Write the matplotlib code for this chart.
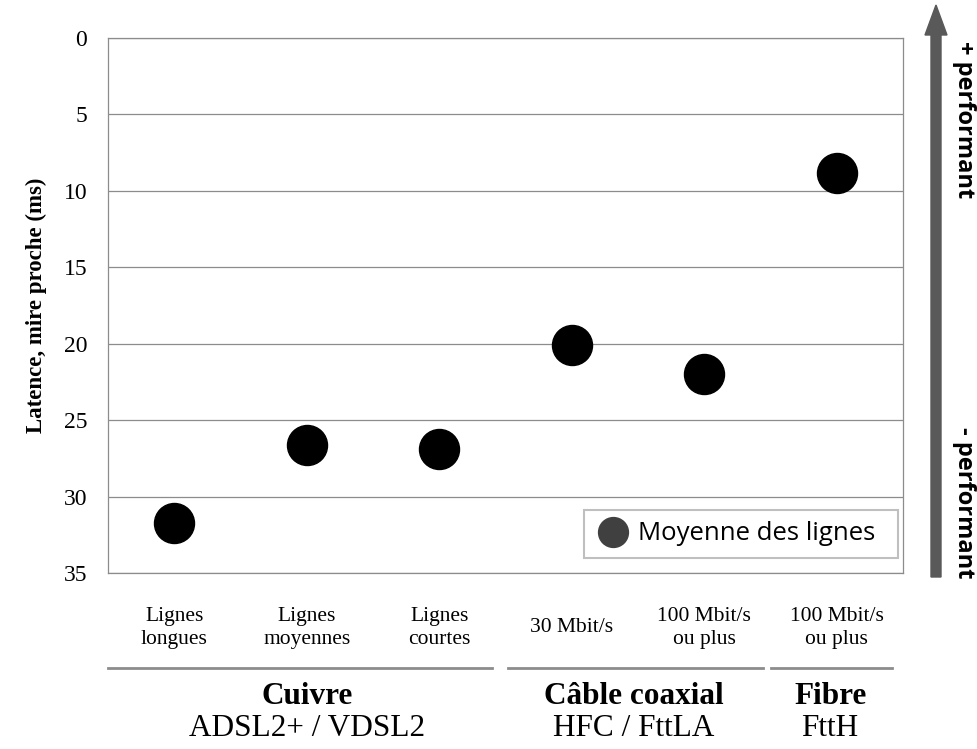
import matplotlib.pyplot as plt
import matplotlib.transforms as mtransforms
from matplotlib.lines import Line2D
from matplotlib.patches import FancyArrow, Rectangle
import numpy as np

# data
categories = ['Lignes\nlongues', 'Lignes\nmoyennes', 'Lignes\ncourtes',
              '30 Mbit/s', '100 Mbit/s\nou plus', '100 Mbit/s\nou plus']
latency = [31.7, 26.6, 26.9, 20.1, 22.0, 8.8]
groups = ['Cuivre', 'Câble coaxial', 'Fibre']
group_sub = ['ADSL2+ / VDSL2', 'HFC / FttLA', 'FttH']
group_span = [(0.0, 2.9), (3.02, 4.94), (5.0, 5.92)]
group_center = [1.5, 3.97, 5.45]
yticks = [0, 5, 10, 15, 20, 25, 30, 35]

serif = 'Liberation Serif'
sans = 'Open Sans'

fig = plt.figure(figsize=(9.77, 7.49), dpi=100)
ax = fig.add_axes([108 / 977, 1 - 573 / 749, 795 / 977, 535 / 749])

x = np.arange(len(categories)) + 0.5
ax.scatter(x, latency, s=830, color='black', zorder=3)

ax.set_xlim(0, 6)
ax.set_ylim(35, 0)
ax.set_yticks(yticks)
ax.set_yticklabels([str(t) for t in yticks], fontfamily=serif, fontsize=17)
ax.set_xticks([])
ax.tick_params(axis='y', length=0, pad=15)
ax.grid(axis='y', color='#8c8c8c', lw=0.9)
ax.set_axisbelow(True)
for sp in ax.spines.values():
    sp.set_color('#8c8c8c')
    sp.set_linewidth(0.9)
ax.set_ylabel('Latence, mire proche (ms)', fontfamily=serif, fontsize=16.5,
              fontweight='bold', labelpad=12)

# legend (frame drawn separately so its padding can match the original)
ax.add_patch(Rectangle((0.5987, 0.028), 0.395, 0.0898, transform=ax.transAxes,
                       facecolor='white', edgecolor='#bfbfbf', lw=1.5,
                       zorder=4))
handle = Line2D([], [], marker='o', ls='', color='#404040', markersize=21.5)
leg = ax.legend([handle], ['Moyenne des lignes'], loc='center right',
                bbox_to_anchor=(0.9755, 0.0729), frameon=False,
                prop={'family': sans, 'size': 18.5}, handletextpad=0.39,
                borderpad=0.33, handlelength=1.17, borderaxespad=0)
leg.set_zorder(5)

# category labels under the axis
for xi, lab in zip(x, categories):
    ax.annotate(lab, xy=(xi, 749 - 628), xycoords=('data', 'figure pixels'),
                ha='center', va='center', fontfamily=serif, fontsize=15.5,
                linespacing=1.3)

# group separators and labels
trans = mtransforms.blended_transform_factory(ax.transData, fig.transFigure)
for (a, b), xc, g, s in zip(group_span, group_center, groups, group_sub):
    yl = 1 - 668 / 749
    ax.plot([a, b], [yl, yl], color='#8c8c8c', lw=2, transform=trans,
            clip_on=False)
    ax.text(xc, 1 - 697 / 749, g, transform=trans, ha='center', va='center',
            fontfamily=serif, fontsize=22.5, fontweight='bold')
    ax.text(xc, 1 - 728 / 749, s, transform=trans, ha='center', va='center',
            fontfamily=serif, fontsize=22.5)

# performance arrow on the right
arrow = FancyArrow(936, 749 - 577, 0, 572 - 30, width=10, head_width=22,
                   head_length=30, length_includes_head=False, color='#595959',
                   transform=mtransforms.IdentityTransform())
fig.add_artist(arrow)
fig.text(964 / 977, 1 - 120 / 749, '+ performant', rotation=-90, ha='center',
         va='center', fontfamily=sans, fontsize=17, fontweight='bold')
fig.text(964 / 977, 1 - 503 / 749, '- performant', rotation=-90, ha='center',
         va='center', fontfamily=sans, fontsize=17, fontweight='bold')

fig.savefig('out.png', dpi=100)
